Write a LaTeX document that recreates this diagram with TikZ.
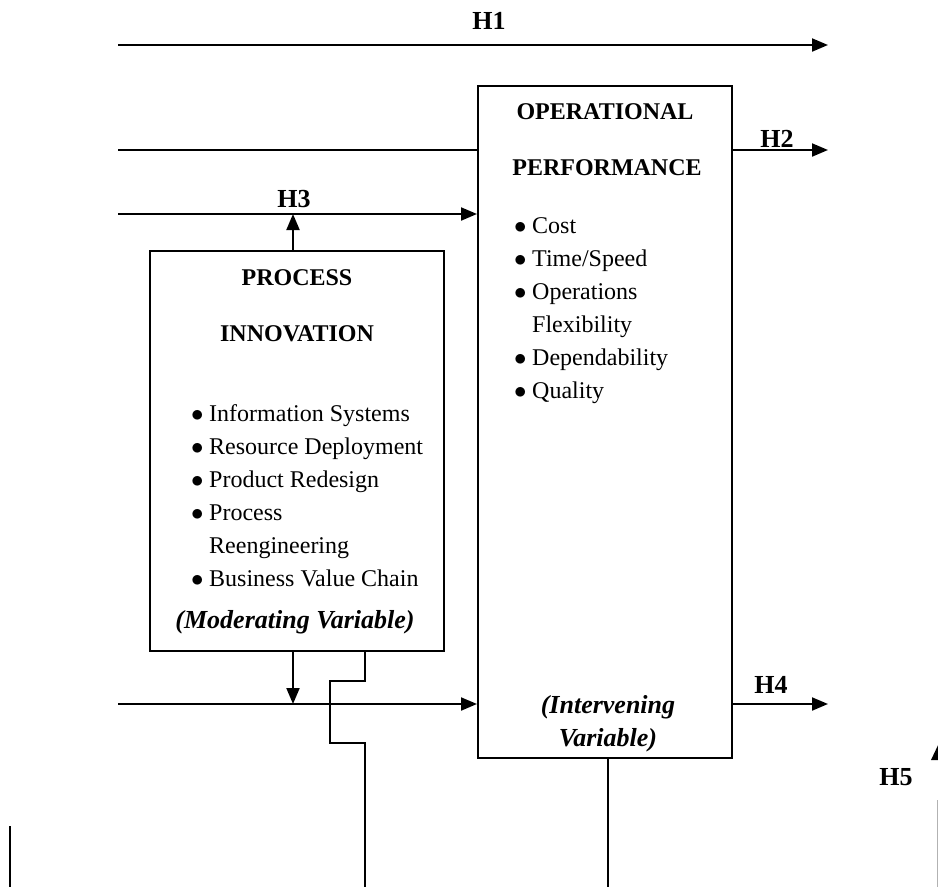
\documentclass[tikz,border=0pt]{standalone}
\usepackage{fontspec}
\setmainfont{Liberation Serif}
\usetikzlibrary{arrows.meta}
\tikzset{
  wire/.style={line width=2pt},
  arr/.style={wire, -{Triangle[length=16pt,width=13pt]}},
  box/.style={draw, line width=2pt, rectangle, inner sep=0pt},
  lab/.style={font=\fontsize{24}{33}\selectfont\bfseries, inner sep=0pt, anchor=base},
  hyp/.style={font=\fontsize{26}{33}\selectfont\bfseries, inner sep=0pt, anchor=base},
  txt/.style={font=\fontsize{24}{33}\selectfont, inner sep=0pt},
  itl/.style={font=\fontsize{26}{33}\selectfont\bfseries\itshape, inner sep=0pt, anchor=base},
}
\newcommand{\itm}{\makebox[18pt][l]{$\bullet$}}
\newcommand{\ind}{\hspace*{18pt}}
\begin{document}
\begin{tikzpicture}[x=1pt, y=-1pt]
\useasboundingbox (0,0) rectangle (938,887);

% boxes
\node[box, minimum width=254pt, minimum height=672pt] (op) at (605,422) {};
\node[box, minimum width=294pt, minimum height=400pt] (pi) at (297,451) {};

% operational performance text
\node[lab] (opt1) at (605,119) {OPERATIONAL};
\node[lab] (opt2) at (607,175) {PERFORMANCE};
\node[txt, anchor=base west] (oplist) at (514,233)
  {\begin{tabular}[t]{@{}l@{}}
   \itm Cost\\ \itm Time/Speed\\ \itm Operations\\ \ind Flexibility\\
   \itm Dependability\\ \itm Quality\end{tabular}};
\node[itl] (opv1) at (608,713) {(Intervening};
\node[itl] (opv2) at (608,746) {Variable)};

% process innovation text
\node[lab] (pit1) at (297,285) {PROCESS};
\node[lab] (pit2) at (297,341) {INNOVATION};
\node[txt, anchor=base west] (pilist) at (191,421)
  {\begin{tabular}[t]{@{}l@{}}
   \itm Information Systems\\ \itm Resource Deployment\\ \itm Product Redesign\\
   \itm Process\\ \ind Reengineering\\ \itm Business Value Chain\end{tabular}};
\node[itl] (piv) at (295,628) {(Moderating Variable)};

% free ends of the connectors
\coordinate (h1a) at (118,45);  \coordinate (h1b) at (828,45);
\coordinate (h2a) at (118,150); \coordinate (h2b) at (828,150);
\coordinate (h3a) at (118,214);
\coordinate (h4a) at (118,704); \coordinate (h4b) at (828,704);
\coordinate (m1) at (293,214);  \coordinate (m2) at (293,704);
\coordinate (s0) at (365,651);  \coordinate (s1) at (365,681);
\coordinate (s2) at (330,681);  \coordinate (s3) at (330,743);
\coordinate (s4) at (365,743);  \coordinate (s5) at (365,887);
\coordinate (ob) at (608,887);
\coordinate (lf1) at (10,826);  \coordinate (lf2) at (10,887);

% hypotheses
\draw[arr] (h1a) -- (h1b);
\draw[wire] (h2a) -- (h2a -| op.west);
\draw[arr] (h2a -| op.east) -- (h2b);
\draw[arr] (h3a) -- (h3a -| op.west);
\draw[arr] (h4a) -- (h4a -| op.west);
\draw[arr] (h4a -| op.east) -- (h4b);
\draw[arr] (m1 |- pi.north) -- (m1);
\draw[arr] (m2 |- pi.south) -- (m2);
\draw[wire] (s0) -- (s1) -- (s2) -- (s3) -- (s4) -- (s5);
\draw[wire] (op.south -| ob) -- (ob);
\draw[line width=2.4pt] (lf1) -- (lf2);

% H5, mostly beyond the right edge
\fill (931,760) -- (940,741) -- (949,760) -- cycle;
\draw[black!30, line width=0.8pt] (937.6,800) -- (937.6,887);

% labels
\node[hyp] (l1) at (489,29) {H1};
\node[hyp] (l2) at (777,147) {H2};
\node[hyp] (l3) at (294,207) {H3};
\node[hyp] (l4) at (771,693) {H4};
\node[hyp] (l5) at (896,785) {H5};
\end{tikzpicture}
\end{document}
